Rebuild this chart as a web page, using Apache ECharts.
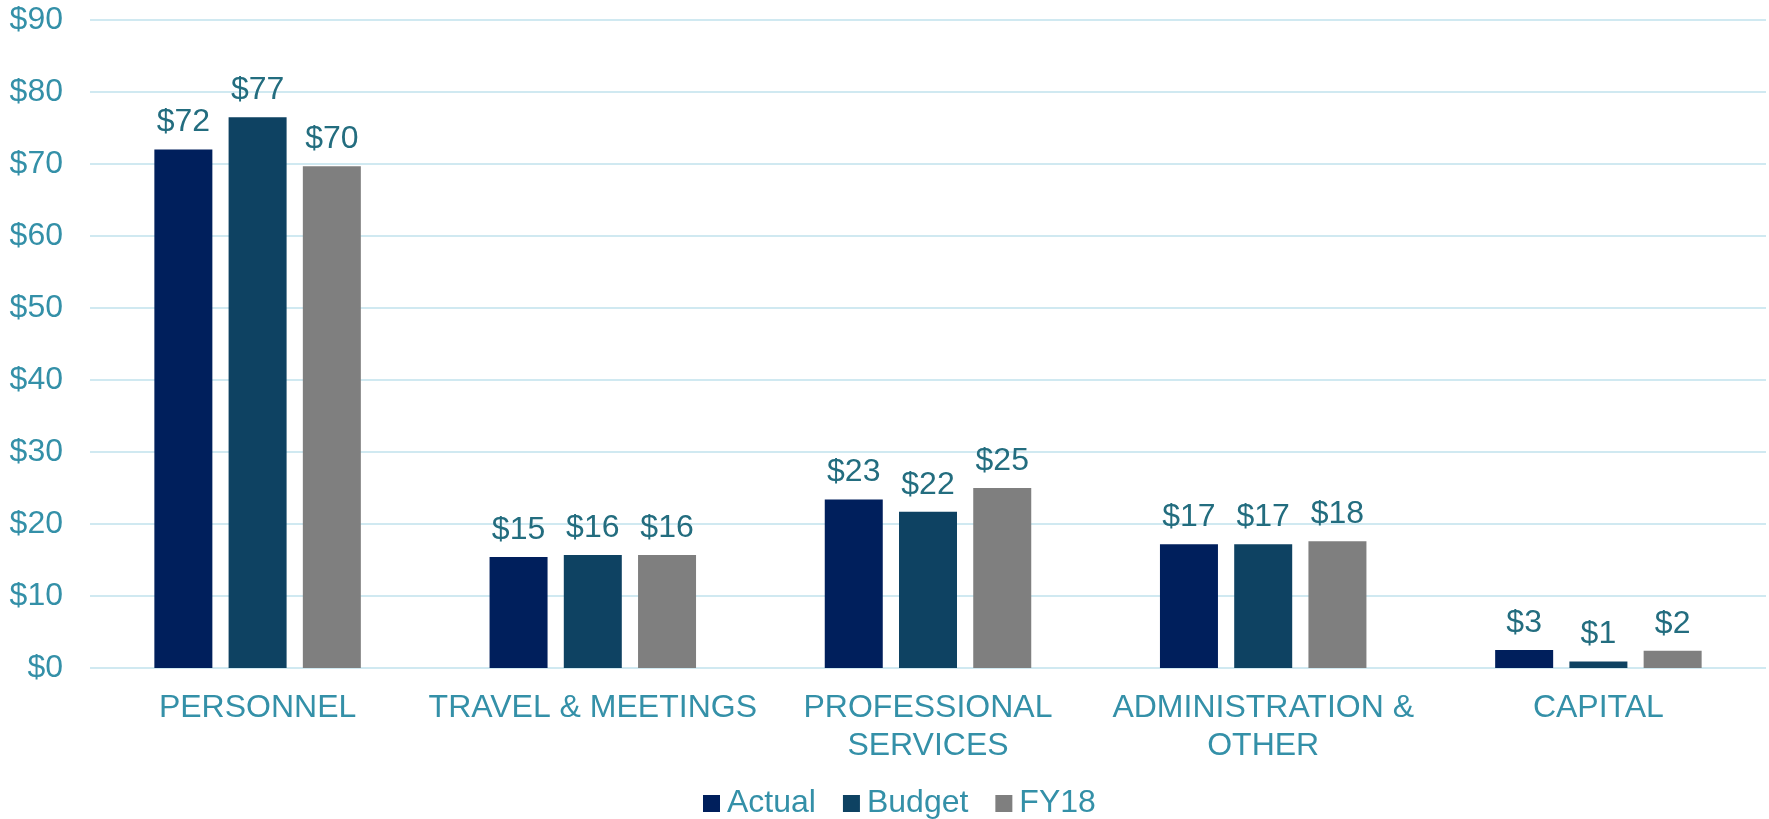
<!DOCTYPE html>
<html>
<head>
<meta charset="utf-8">
<script src="https://cdn.jsdelivr.net/npm/echarts@6/dist/echarts.min.js"></script>
<style>
  html, body { margin: 0; padding: 0; background: #fff; }
  #chart { width: 1769px; height: 819px; }
</style>
</head>
<body>
<div id="chart"></div>
<script>
// categories and values
var categories = ['PERSONNEL', 'TRAVEL & MEETINGS', 'PROFESSIONAL\nSERVICES', 'ADMINISTRATION &\nOTHER', 'CAPITAL']
var actual = [72.0, 15.4, 23.4, 17.2, 2.5]
var budget = [76.5, 15.7, 21.7, 17.2, 0.9]
var fy18 = [69.7, 15.7, 25.0, 17.6, 2.4]

var font = "'Liberation Sans', Arial, sans-serif"
var axisColor = '#3490A8'
var valueColor = '#236D7F'

function makeSeries(name, data, color) {
  return {
    name: name,
    type: 'bar',
    data: data,
    barWidth: 58,
    barGap: '28%',
    itemStyle: { color: color },
    label: {
      show: true,
      position: 'top',
      distance: 11,
      color: valueColor,
      fontFamily: font,
      fontSize: 32,
      formatter: function (p) { return '$' + Math.round(p.value) }
    }
  }
}

var chart = echarts.init(document.getElementById('chart'))
chart.setOption({
  animation: false,
  textStyle: { fontFamily: font },
  grid: { left: 90, right: 3, top: 20, bottom: 151 },
  legend: {
    left: 703,
    top: 786,
    padding: 0,
    itemWidth: 17,
    itemHeight: 17,
    itemGap: 27,
    icon: 'rect',
    textStyle: {
      color: axisColor,
      fontFamily: font,
      fontSize: 32,
      lineHeight: 35,
      padding: [0, 0, 0, 2]
    }
  },
  xAxis: {
    type: 'category',
    data: categories,
    axisLine: { show: false },
    axisTick: { show: false },
    axisLabel: {
      color: axisColor,
      fontFamily: font,
      fontSize: 32,
      lineHeight: 38,
      margin: 21,
      interval: 0
    }
  },
  yAxis: {
    type: 'value',
    min: 0,
    max: 90,
    interval: 10,
    axisLine: { show: false },
    axisTick: { show: false },
    splitLine: { lineStyle: { color: '#D0E9F1', width: 2 } },
    axisLabel: {
      color: axisColor,
      fontFamily: font,
      fontSize: 32,
      margin: 27,
      formatter: '${value}'
    }
  },
  series: [
    makeSeries('Actual', actual, '#001F5C'),
    makeSeries('Budget', budget, '#0E4262'),
    makeSeries('FY18', fy18, '#7F7F7F')
  ]
})
</script>
</body>
</html>
